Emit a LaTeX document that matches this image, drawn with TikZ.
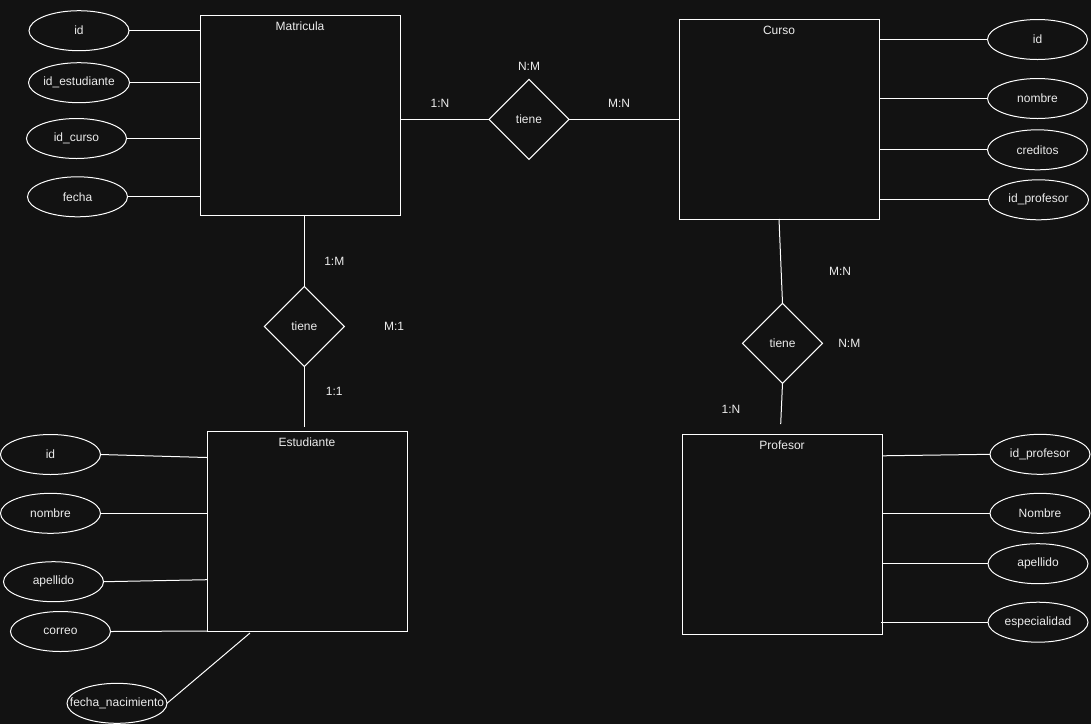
\documentclass[tikz,border=0pt]{standalone}
\usepackage{fontspec}
\setmainfont{Liberation Sans}
\usetikzlibrary{shapes.geometric}
\definecolor{bgc}{RGB}{18,18,18}
\definecolor{txt}{RGB}{236,236,236}
\begin{document}
\begin{tikzpicture}[x=1pt,y=-1pt,
  every node/.style={font=\fontsize{12}{14}\selectfont, text=txt},
  entity/.style={draw=white, line width=1pt, minimum width=200pt, minimum height=200pt, inner sep=0pt, outer sep=0pt},
  attr/.style={ellipse, draw=white, line width=1pt, minimum width=100pt, minimum height=40pt, inner sep=0pt, outer sep=0pt},
  rel/.style={diamond, draw=white, line width=1pt, minimum width=80pt, minimum height=80pt, inner sep=0pt, outer sep=0pt},
  card/.style={inner sep=0pt},
  conn/.style={draw=white, line width=1pt},
  ttl/.style={anchor=center, yshift=-11.5pt, inner sep=0pt}
]
\fill[bgc] (0,0) rectangle (1091,724);
\useasboundingbox (0,0) rectangle (1091,724);

% entities
\node[entity, label={[ttl]north:Matricula}] (mat) at (300,115) {};
\node[entity, label={[ttl]north:Curso}] (cur) at (779,119) {};
\node[entity, label={[ttl]north:Estudiante}] (est) at (307,531) {};
\node[entity, label={[ttl]north:Profesor}] (pro) at (782,534) {};

% relationships
\node[rel] (r1) at (529,119.3) {tiene};
\node[rel] (r2) at (304.3,326.5) {tiene};
\node[rel] (r3) at (782.5,343.3) {tiene};

% cardinalities
\node[card] (c1) at (529,66) {N:M};
\node[card] (c2) at (440,103.3) {1:N};
\node[card] (c3) at (619,103.3) {M:N};
\node[card] (c4) at (334.3,261.7) {1:M};
\node[card] (c5) at (394,326.7) {M:1};
\node[card] (c6) at (334.3,391.7) {1:1};
\node[card] (c7) at (840,271.7) {M:N};
\node[card] (c8) at (849.3,343.3) {N:M};
\node[card] (c9) at (731,409) {1:N};

% Matricula attributes
\node[attr] (m1) at (79,30.7) {id};
\node[attr] (m2) at (79,82.7) {id\_estudiante};
\node[attr] (m3) at (76.5,138.5) {id\_curso};
\node[attr] (m4) at (77.5,196.8) {fecha};

% Curso attributes
\node[attr] (k1) at (1037.5,39.5) {id};
\node[attr] (k2) at (1037.5,98.5) {nombre};
\node[attr] (k3) at (1037.5,149.8) {creditos};
\node[attr] (k4) at (1038.5,199.8) {id\_profesor};

% Estudiante attributes
\node[attr] (e1) at (50.5,454.5) {id};
\node[attr] (e2) at (50.5,513.3) {nombre};
\node[attr] (e3) at (53.5,581.7) {apellido};
\node[attr] (e4) at (60.5,631.5) {correo};
\node[attr, label={[inner sep=0pt]center:fecha\_nacimiento}] (e5) at (117,703.3) {};

% Profesor attributes
\node[attr] (p1) at (1040,454.3) {id\_profesor};
\node[attr] (p2) at (1040,513.3) {Nombre};
\node[attr] (p3) at (1038,563.7) {apellido};
\node[attr] (p4) at (1038,622.2) {especialidad};

\coordinate (pend) at (780.7,424);

% connectors: relationships
\draw[conn] (mat.east |- r1) -- (r1.west);
\draw[conn] (r1.east) -- (r1 -| cur.west);
\draw[conn] (r2 |- mat.south) -- (r2.north);
\draw[conn] (r2.south) -- ([yshift=4pt]r2 |- est.north);
\draw[conn] (cur.south) -- (r3.north);
\draw[conn] (r3.south) -- (pend);

% connectors: attributes
\draw[conn] (m1.east) -- (m1 -| mat.west);
\draw[conn] (m2.east) -- (m2 -| mat.west);
\draw[conn] (m3.east) -- (m3 -| mat.west);
\draw[conn] (m4.east) -- (m4 -| mat.west);

\draw[conn] (k1.west) -- (k1 -| cur.east);
\draw[conn] (k2.west) -- (k2 -| cur.east);
\draw[conn] (k3.west) -- (k3 -| cur.east);
\draw[conn] (k4.west) -- (k4 -| cur.east);

\draw[conn] (e1.east) -- ([yshift=-3pt]e1 -| est.west);
\draw[conn] (e2.east) -- (e2 -| est.west);
\draw[conn] (e3.east) -- ([yshift=2pt]e3 -| est.west);
\draw[conn] (e4.east) -- (est.south west);
\draw[conn] (e5.east) -- ([xshift=43pt,yshift=-2pt]est.south west);

\draw[conn] (p1.west) -- ([yshift=-1.5pt]p1 -| pro.east);
\draw[conn] (p2.west) -- (p2 -| pro.east);
\draw[conn] (p3.west) -- (p3 -| pro.east);
\draw[conn] (p4.west) -- ([xshift=-1.5pt]p4 -| pro.east);
\end{tikzpicture}
\end{document}
